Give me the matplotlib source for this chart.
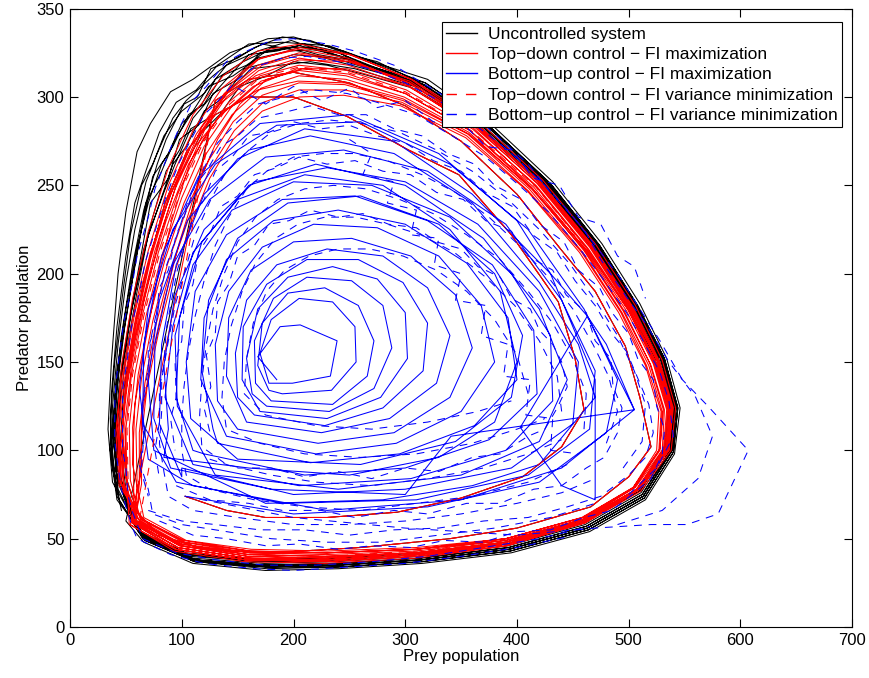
import matplotlib
matplotlib.use('Agg')
import matplotlib.pyplot as plt

plt.rcParams['font.family'] = ['Liberation Sans', 'DejaVu Sans']

# trajectories in the (prey, predator) plane, one loop per row
start_path = [(103, 74), (140, 66), (175, 62), (230, 62), (293, 65), (350, 73), (405, 85), (440, 102),
              (460, 123), (452, 152), (437, 184), (395, 222), (348, 256), (303, 270), (248, 289),
              (200, 300), (160, 300), (130, 290), (105, 270), (85, 240), (70, 205), (58, 170),
              (50, 140), (47, 110), (50, 85), (60, 65), (80, 52), (120, 44), (180, 42), (260, 45),
              (340, 50), (400, 56), (466, 68), (500, 85), (520, 102), (510, 130), (497, 159),
              (470, 190), (439, 214), (400, 245), (350, 275), (300, 295), (250, 308), (200, 314),
              (160, 310), (130, 298)]

uncontrolled = [
    [(50, 60), (66, 48), (110, 36), (175, 32), (240, 33), (315, 36), (395, 42), (465, 54), (515, 72),
     (541, 98), (546, 124), (534, 152), (510, 183), (476, 217), (432, 252), (378, 284), (320, 310),
     (280, 318), (245, 326), (200, 334), (177, 333), (143, 325), (110, 310), (90, 303), (72, 285),
     (60, 269), (50, 235), (43, 200), (37, 150), (34, 112), (38, 82)],
    [(67, 49), (112, 37), (176, 33), (240, 34), (315, 37), (394, 43), (464, 55), (514, 73), (540, 99),
     (544, 124), (532, 152), (508, 182), (474, 216), (430, 251), (376, 283), (318, 308), (265, 321),
     (232, 329), (190, 331), (160, 330), (132, 318), (113, 304), (95, 297), (80, 280), (70, 262),
     (58, 240), (50, 210), (42, 170), (37, 132), (36, 100), (42, 72)],
    [(68, 50), (113, 38), (177, 34), (240, 35), (314, 38), (393, 44), (463, 56), (513, 74), (538, 100),
     (542, 125), (530, 152), (506, 182), (472, 216), (428, 251), (374, 283), (316, 307), (272, 317),
     (240, 325), (205, 329), (175, 326), (155, 320), (130, 310), (118, 296), (100, 285), (88, 268),
     (74, 255), (64, 225), (54, 190), (45, 155), (40, 120), (41, 88)],
    [(66, 51), (111, 38), (176, 35), (240, 36), (314, 39), (393, 45), (462, 57), (512, 75), (537, 100),
     (540, 125), (528, 152), (504, 182), (470, 216), (426, 251), (372, 282), (314, 305), (262, 318),
     (225, 327), (195, 326), (168, 322), (146, 312), (124, 306), (108, 290), (94, 276), (82, 258),
     (68, 240), (58, 205), (49, 170), (42, 135), (39, 105), (43, 78)],
    [(64, 52), (109, 39), (174, 36), (238, 37), (313, 40), (392, 46), (461, 58), (511, 76), (536, 101),
     (539, 126), (526, 153), (502, 183), (468, 217), (424, 252), (370, 283), (312, 306), (268, 316),
     (236, 322), (200, 324), (180, 320), (156, 316), (138, 300), (120, 292), (104, 272), (92, 262),
     (78, 236), (66, 214), (56, 182), (47, 148), (42, 118), (42, 90)],
    [(63, 53), (107, 40), (172, 37), (237, 38), (312, 41), (391, 47), (460, 59), (510, 77), (535, 102),
     (538, 127), (525, 154), (500, 184), (466, 218), (422, 253), (368, 284), (310, 307), (258, 320),
     (222, 324), (200, 328), (170, 325), (150, 310), (128, 302), (115, 284), (98, 276), (88, 254),
     (72, 240), (62, 205), (52, 170), (44, 138), (40, 108), (44, 80)],
    [(62, 54), (106, 41), (170, 38), (236, 39), (311, 42), (390, 48), (459, 60), (509, 78), (533, 102),
     (537, 127), (524, 154), (499, 184), (465, 218), (420, 253), (366, 284), (308, 306), (255, 316),
     (215, 320), (188, 318), (162, 316), (140, 302), (124, 288), (108, 282), (94, 262), (84, 246),
     (70, 222), (60, 190), (51, 158), (45, 128), (43, 98), (48, 74)],
    [(60, 55), (104, 42), (168, 38), (235, 39), (310, 42), (390, 48), (459, 60), (508, 78), (532, 102),
     (536, 126), (523, 153), (498, 183), (464, 217), (419, 252), (365, 283), (307, 305), (262, 313),
     (230, 318), (200, 320), (176, 312), (152, 306), (134, 290), (118, 280), (102, 260), (92, 248),
     (78, 224), (66, 196), (56, 164), (48, 134), (45, 104), (50, 78)],
    [(61, 54), (105, 41), (170, 37), (236, 38), (311, 41), (391, 47), (460, 59), (510, 77), (535, 101),
     (539, 126), (526, 153), (501, 183), (467, 217), (423, 252), (369, 284), (311, 308), (270, 316),
     (238, 326), (210, 330), (185, 326), (160, 324), (140, 310), (126, 300), (110, 288), (98, 270),
     (86, 258), (74, 232), (64, 206), (54, 176), (46, 142), (42, 110), (45, 82)],
    [(65, 50), (110, 38), (174, 35), (239, 35), (314, 38), (393, 44), (463, 56), (513, 74), (539, 100),
     (543, 125), (531, 152), (507, 182), (473, 216), (429, 251), (375, 283), (317, 307), (275, 320),
     (250, 324), (215, 332), (190, 334), (165, 328), (150, 322), (126, 316), (114, 300), (102, 296),
     (86, 276), (78, 262), (66, 236), (56, 205), (46, 165), (40, 130), (38, 100), (42, 74)],
    [(64, 51), (109, 38), (173, 35), (238, 36), (313, 39), (392, 45), (462, 57), (512, 75), (537, 100),
     (541, 125), (529, 152), (505, 182), (471, 216), (427, 251), (373, 282), (315, 306), (250, 322),
     (210, 328), (180, 328), (158, 318), (136, 312), (120, 296), (106, 290), (92, 272), (82, 262),
     (70, 240), (60, 215), (50, 180), (42, 145), (38, 112), (42, 84)],
    [(66, 50), (111, 37), (175, 34), (239, 35), (314, 38), (393, 44), (463, 56), (513, 74), (539, 100),
     (542, 125), (530, 152), (506, 182), (472, 216), (428, 251), (374, 283), (316, 307), (240, 320),
     (205, 326), (172, 330), (148, 322), (128, 312), (104, 298), (92, 288), (78, 268), (68, 252),
     (58, 225), (50, 195), (43, 160), (38, 125), (37, 98), (44, 72)],
    [(67, 49), (112, 37), (176, 34), (240, 34), (315, 37), (394, 43), (464, 55), (514, 73), (540, 99),
     (544, 124), (532, 152), (508, 182), (474, 216), (430, 251), (376, 283), (318, 308), (235, 324),
     (198, 332), (168, 326), (140, 318), (120, 302), (100, 292), (84, 278), (74, 262), (64, 250),
     (54, 222), (47, 188), (40, 150), (36, 118), (38, 90), (46, 66)],
]

topdown_max = [
    [(54, 58), (93, 43), (156, 37), (228, 36), (310, 39), (391, 46), (461, 59), (511, 77), (538, 100),
     (542, 124), (530, 151), (506, 182), (470, 217), (423, 253), (366, 286), (306, 310), (250, 324),
     (205, 328), (167, 321), (136, 305), (110, 281), (88, 250), (70, 213), (56, 175), (46, 140),
     (41, 110), (44, 80)],
    [(64, 61), (102, 49), (161, 43), (230, 42), (310, 44), (390, 50), (459, 62), (504, 79), (527, 100),
     (529, 122), (516, 148), (493, 178), (458, 212), (410, 247), (355, 278), (297, 297), (246, 304),
     (205, 304), (173, 297), (147, 281), (125, 259), (106, 231), (89, 200), (76, 169), (67, 138),
     (62, 110), (62, 83)],
    [(55, 59), (95, 44), (157, 38), (229, 37), (310, 40), (391, 46), (461, 59), (510, 78), (536, 100),
     (540, 124), (528, 150), (504, 181), (468, 216), (421, 252), (364, 284), (304, 308), (249, 321),
     (205, 325), (168, 318), (138, 302), (113, 279), (91, 249), (73, 213), (59, 176), (49, 141),
     (44, 111), (46, 81)],
    [(61, 61), (100, 47), (160, 42), (229, 41), (310, 43), (390, 49), (459, 61), (506, 79), (530, 100),
     (532, 123), (520, 148), (496, 179), (461, 213), (413, 248), (357, 280), (299, 300), (247, 310),
     (205, 312), (171, 305), (145, 290), (122, 268), (102, 240), (85, 208), (71, 175), (61, 143),
     (56, 113), (57, 84)],
    [(57, 59), (96, 45), (158, 39), (229, 38), (310, 41), (391, 47), (460, 60), (509, 78), (534, 100),
     (538, 123), (526, 150), (502, 180), (466, 215), (419, 251), (362, 283), (303, 306), (249, 318),
     (205, 322), (169, 315), (140, 300), (116, 278), (94, 248), (76, 213), (62, 177), (52, 142),
     (47, 112), (48, 82)],
    [(62, 60), (100, 46), (160, 41), (229, 40), (310, 42), (390, 48), (460, 61), (507, 78), (532, 100),
     (535, 123), (523, 149), (499, 180), (463, 214), (416, 250), (360, 283), (302, 307), (249, 322),
     (205, 327), (170, 322), (145, 308), (125, 288), (107, 262), (91, 230), (78, 196), (67, 160),
     (58, 126), (56, 92)],
    [(66, 62), (104, 49), (162, 44), (230, 43), (310, 45), (390, 50), (458, 62), (504, 79), (525, 100),
     (527, 122), (515, 148), (491, 178), (456, 212), (409, 247), (354, 277), (296, 295), (245, 301),
     (205, 300), (172, 292), (146, 276), (125, 254), (107, 226), (91, 196), (79, 166), (69, 136),
     (64, 108), (64, 81)],
    [(58, 60), (98, 46), (159, 40), (229, 39), (310, 42), (391, 48), (460, 60), (508, 78), (533, 100),
     (536, 123), (524, 149), (500, 180), (464, 214), (417, 250), (360, 282), (301, 304), (248, 315),
     (205, 318), (170, 312), (142, 297), (118, 275), (97, 246), (79, 212), (65, 177), (55, 143),
     (50, 112), (51, 82)],
    [(53, 58), (94, 44), (157, 38), (229, 37), (310, 40), (391, 47), (460, 60), (509, 78), (535, 100),
     (538, 123), (525, 149), (500, 179), (463, 213), (414, 248), (357, 279), (298, 299), (246, 308),
     (204, 309), (168, 304), (138, 292), (112, 272), (90, 245), (72, 212), (58, 178), (48, 143),
     (43, 112), (45, 82)],
    [(60, 60), (99, 47), (160, 41), (229, 40), (310, 42), (390, 48), (460, 61), (507, 78), (531, 100),
     (534, 123), (522, 149), (498, 179), (462, 213), (415, 249), (358, 281), (300, 302), (247, 312),
     (205, 315), (171, 309), (144, 294), (120, 272), (100, 243), (82, 210), (68, 176), (58, 143),
     (53, 113), (54, 83)],
    [(63, 61), (101, 48), (161, 42), (230, 42), (310, 44), (390, 49), (459, 61), (505, 79), (528, 100),
     (530, 122), (518, 148), (494, 178), (459, 212), (411, 248), (356, 279), (298, 298), (246, 307),
     (205, 308), (172, 301), (146, 286), (124, 264), (104, 236), (87, 205), (74, 173), (64, 141),
     (59, 112), (60, 83)],
    [(58, 59), (97, 45), (158, 39), (229, 38), (310, 41), (391, 47), (461, 60), (509, 78), (535, 100),
     (538, 124), (526, 150), (502, 181), (466, 216), (419, 252), (363, 285), (304, 309), (250, 320),
     (205, 321), (166, 312), (134, 296), (108, 272), (88, 242), (72, 208), (60, 174), (51, 140),
     (46, 110), (48, 82)],
    [(56, 59), (95, 44), (157, 38), (229, 38), (310, 41), (391, 47), (461, 59), (510, 78), (536, 100),
     (539, 124), (527, 150), (503, 181), (467, 216), (420, 252), (364, 285), (305, 310), (251, 324),
     (206, 330), (168, 326), (137, 312), (110, 290), (88, 260), (70, 224), (56, 186), (46, 148),
     (42, 114), (45, 82)],
    [(65, 61), (103, 48), (161, 43), (230, 42), (310, 44), (390, 50), (459, 62), (505, 79), (528, 101),
     (531, 123), (519, 149), (495, 179), (460, 213), (413, 249), (358, 281), (300, 302), (249, 313),
     (208, 316), (176, 310), (152, 296), (132, 276), (114, 250), (98, 218), (84, 184), (72, 150),
     (64, 118), (63, 88)],
    [(59, 60), (98, 46), (159, 40), (229, 39), (310, 42), (391, 47), (460, 60), (508, 78), (534, 100),
     (537, 123), (525, 149), (501, 180), (465, 215), (418, 251), (362, 284), (303, 308), (250, 320),
     (207, 324), (172, 318), (143, 304), (118, 283), (97, 254), (80, 220), (66, 184), (55, 148),
     (49, 115), (50, 84)],
    [(57, 60), (96, 45), (158, 39), (229, 38), (310, 41), (391, 47), (461, 60), (509, 78), (535, 100),
     (539, 124), (527, 150), (503, 181), (467, 216), (420, 252), (363, 284), (303, 306), (248, 316),
     (203, 316), (164, 306), (132, 288), (106, 262), (86, 230), (70, 196), (58, 162), (49, 130),
     (45, 102), (48, 78)],
]

bottomup_max = [
    [(103, 74), (200, 64), (320, 68), (420, 82), (480, 110), (490, 140), (460, 180), (410, 225),
     (340, 262), (260, 286), (185, 284), (130, 262), (92, 225), (70, 180), (62, 135), (70, 95)],
    [(110, 80), (230, 66), (350, 72), (440, 90), (505, 123), (463, 176), (430, 200), (400, 230),
     (330, 268), (250, 290), (170, 285), (115, 255), (82, 210), (66, 160), (65, 115)],
    [(95, 82), (190, 70), (310, 72), (410, 86), (465, 112), (470, 145), (440, 185), (390, 228),
     (320, 258), (245, 270), (175, 266), (125, 242), (92, 205), (76, 160), (75, 118)],
    [(90, 90), (180, 78), (300, 75), (341, 108), (505, 123), (480, 160), (463, 176), (403, 113),
     (440, 80), (470, 72), (470, 140), (430, 200), (360, 245), (290, 275), (210, 282), (150, 265),
     (105, 230), (80, 185), (70, 140), (75, 100)],
    [(175, 70), (280, 72), (360, 80), (420, 92), (470, 130), (455, 160), (420, 195), (360, 240),
     (290, 268), (215, 278), (160, 270), (120, 245), (95, 205), (82, 160), (80, 115), (100, 85)],
    [(100, 90), (200, 75), (300, 78), (395, 90), (450, 115), (455, 150), (420, 190), (365, 228),
     (300, 252), (230, 260), (165, 252), (120, 225), (94, 188), (84, 148), (88, 112)],
    [(84, 96), (160, 90), (250, 86), (330, 96), (380, 116), (400, 150), (385, 190), (340, 225),
     (280, 250), (210, 256), (150, 242), (110, 212), (92, 170), (85, 130)],
    [(110, 92), (205, 80), (305, 84), (390, 100), (432, 128), (430, 165), (395, 200), (340, 232),
     (270, 250), (200, 252), (145, 236), (110, 205), (94, 165), (96, 125)],
    [(130, 86), (240, 78), (350, 86), (420, 105), (445, 140), (420, 180), (370, 220), (300, 250),
     (220, 262), (160, 250), (118, 218), (98, 175), (95, 130), (110, 100)],
    [(120, 98), (210, 86), (300, 90), (375, 106), (418, 132), (415, 168), (378, 205), (320, 230),
     (255, 244), (190, 242), (140, 222), (112, 190), (104, 150), (108, 118)],
    [(150, 95), (260, 92), (345, 105), (395, 130), (405, 165), (380, 200), (330, 228), (260, 244),
     (195, 240), (150, 220), (124, 185), (118, 145), (128, 112)],
    [(132, 104), (215, 93), (295, 98), (362, 114), (400, 140), (392, 175), (355, 206), (300, 228),
     (240, 236), (182, 230), (140, 208), (120, 175), (117, 140)],
    [(140, 108), (220, 98), (292, 104), (350, 122), (380, 150), (368, 182), (330, 210), (275, 226),
     (218, 228), (172, 215), (142, 190), (130, 160), (132, 128)],
    [(150, 112), (222, 104), (290, 110), (340, 130), (360, 158), (345, 188), (305, 210), (252, 220),
     (200, 218), (162, 202), (142, 175), (140, 142)],
    [(158, 116), (225, 110), (286, 118), (328, 138), (340, 165), (320, 192), (280, 210), (230, 214),
     (185, 205), (158, 185), (148, 155), (150, 130)],
    [(165, 120), (228, 114), (280, 124), (316, 145), (320, 172), (298, 195), (258, 208), (212, 208),
     (176, 194), (155, 170), (154, 140)],
    [(170, 122), (230, 118), (278, 130), (302, 152), (300, 178), (275, 197), (235, 204), (195, 198),
     (168, 180), (158, 152), (163, 132)],
    [(176, 125), (232, 122), (272, 135), (288, 158), (280, 182), (252, 196), (212, 198), (182, 186),
     (165, 162), (166, 138)],
    [(180, 128), (235, 126), (266, 142), (272, 162), (258, 182), (228, 192), (195, 189), (172, 172),
     (168, 148), (178, 134)],
    [(190, 132), (234, 134), (256, 150), (255, 170), (235, 184), (205, 186), (180, 174), (170, 155),
     (178, 138), (199, 138), (233, 142), (239, 162), (206, 171), (188, 170), (168, 153), (185, 140)],
]

topdown_var = [
    [(62, 60), (100, 46), (160, 41), (229, 40), (310, 43), (390, 48), (460, 60), (508, 78), (533, 100),
     (536, 123), (524, 149), (500, 179), (464, 213), (417, 249), (359, 281), (300, 303), (248, 314),
     (205, 317), (170, 311), (143, 296), (119, 274), (98, 245), (80, 211), (66, 176), (56, 143),
     (51, 112), (52, 82)],
]

bottomup_var = [
    [(103, 74), (200, 62), (300, 56), (400, 52), (470, 56), (520, 58), (552, 58), (580, 64), (607, 100),
     (571, 125), (548, 140), (535, 151), (515, 172), (500, 185), (475, 208), (460, 225), (430, 246),
     (410, 262), (375, 282), (350, 295), (315, 308), (290, 318), (255, 326), (230, 330), (200, 333),
     (180, 332), (158, 326), (140, 320), (122, 306), (110, 298), (96, 280), (88, 268), (76, 248),
     (70, 232), (60, 210), (56, 195), (48, 172), (45, 158), (41, 138), (40, 125), (40, 105), (42, 95),
     (46, 78), (50, 68), (56, 56), (60, 50), (90, 41), (120, 36), (165, 33), (200, 32), (250, 34),
     (300, 36), (350, 40), (400, 45), (445, 51)],
    [(490, 58), (530, 66), (562, 84), (575, 108), (560, 130), (548, 140), (528, 162), (515, 175),
     (492, 198), (475, 212), (448, 234), (425, 250), (392, 270), (365, 283), (330, 298), (300, 308),
     (268, 316), (240, 320), (212, 323), (190, 322), (165, 317), (150, 310), (130, 296), (120, 290),
     (105, 272), (97, 262), (85, 242), (78, 228), (67, 206), (63, 192), (55, 170), (52, 155),
     (47, 134), (47, 120), (47, 100), (50, 90), (52, 74), (56, 65), (65, 50), (95, 42), (130, 38),
     (175, 35), (220, 35), (270, 37), (320, 40), (370, 45), (420, 50), (465, 57)],
    [(80, 60), (110, 52), (140, 50), (175, 46), (205, 47), (240, 44), (270, 46), (305, 45), (335, 49),
     (370, 48), (400, 54), (430, 55), (460, 62), (485, 66), (505, 76), (520, 84), (530, 98), (532, 112),
     (525, 125), (522, 140), (508, 152), (500, 166), (485, 178), (474, 192), (455, 202), (442, 218),
     (420, 228), (404, 242), (380, 250), (362, 262), (338, 268), (315, 278), (290, 282), (265, 290),
     (240, 290), (215, 295), (190, 291), (168, 288), (150, 278), (135, 272), (122, 258), (112, 250),
     (102, 232), (95, 222), (88, 202), (80, 192), (76, 170), (70, 158), (70, 138), (64, 125), (66, 104),
     (62, 92), (70, 74)],
    [(500, 75), (525, 90), (540, 108), (536, 128), (528, 144), (512, 163), (498, 178), (476, 198),
     (455, 215), (428, 235), (402, 250), (372, 266), (342, 278), (310, 290), (280, 296), (248, 302),
     (218, 304), (192, 300), (168, 296), (150, 286), (132, 274), (120, 260), (106, 242), (98, 226),
     (86, 204), (80, 186), (72, 162), (70, 146), (64, 124), (66, 108), (64, 90), (70, 78), (74, 64),
     (100, 58), (140, 54), (180, 50), (230, 48), (280, 48), (330, 52), (380, 56), (430, 62), (470, 70)],
    [(70, 66), (100, 60), (130, 58), (170, 55), (210, 55), (250, 52), (290, 55), (330, 56), (370, 60),
     (410, 62), (445, 68), (475, 74), (500, 86), (515, 96), (522, 110), (518, 126), (510, 138),
     (498, 156), (485, 166), (470, 182), (452, 196), (436, 212), (414, 222), (396, 238), (372, 246),
     (350, 258), (325, 264), (300, 274), (275, 278), (250, 284), (225, 282), (200, 286), (178, 280),
     (160, 278), (145, 266), (130, 258), (120, 242), (110, 232), (102, 214), (96, 202), (90, 182),
     (86, 168), (84, 148), (80, 136), (80, 116), (76, 100), (80, 84)],
    [(495, 90), (512, 105), (515, 126), (505, 145), (490, 165), (470, 185), (448, 205), (420, 225),
     (392, 242), (360, 258), (328, 270), (295, 280), (262, 285), (232, 287), (205, 285), (180, 280),
     (160, 270), (140, 258), (126, 242), (112, 222), (104, 204), (94, 182), (88, 162), (82, 140),
     (82, 122), (80, 104), (84, 88), (88, 74), (110, 66), (150, 62), (200, 58), (250, 58), (300, 60),
     (350, 64), (400, 70), (440, 76), (470, 84)],
    [(95, 80), (125, 72), (160, 70), (190, 66), (225, 66), (255, 62), (290, 66), (320, 64), (355, 70),
     (385, 70), (415, 78), (440, 80), (462, 90), (478, 96), (490, 110), (494, 124), (486, 136),
     (484, 152), (470, 162), (462, 178), (444, 188), (432, 202), (410, 210), (395, 224), (372, 230),
     (352, 242), (328, 246), (305, 256), (280, 258), (255, 264), (230, 262), (205, 266), (185, 260),
     (165, 256), (150, 244), (135, 238), (125, 222), (115, 212), (110, 194), (102, 182), (100, 162),
     (94, 150), (95, 130), (90, 118), (94, 100)],
    [(480, 104), (490, 122), (482, 142), (468, 160), (450, 180), (428, 198), (402, 216), (375, 232),
     (345, 246), (315, 256), (284, 264), (254, 268), (226, 268), (200, 266), (176, 258), (158, 248),
     (142, 232), (130, 216), (120, 196), (112, 176), (106, 156), (102, 136), (100, 118), (100, 100),
     (104, 86), (125, 78), (165, 72), (210, 68), (260, 66), (310, 70), (360, 74), (410, 82), (445, 92)],
    [(460, 112), (462, 132), (450, 152), (432, 172), (410, 190), (385, 208), (355, 222), (325, 234),
     (295, 242), (265, 248), (236, 250), (210, 248), (186, 242), (166, 232), (150, 218), (138, 200),
     (128, 180), (122, 160), (118, 140), (116, 120), (118, 102), (140, 92), (180, 86), (220, 82),
     (270, 80), (320, 84), (370, 90), (410, 98), (440, 106)],
    [(125, 95), (150, 90), (180, 90), (210, 85), (240, 88), (270, 84), (300, 90), (330, 88), (360, 96),
     (385, 98), (410, 108), (425, 112), (436, 124), (445, 136), (440, 150), (432, 160), (420, 168),
     (412, 180), (395, 186), (385, 198), (365, 204), (350, 214), (328, 218), (310, 226), (285, 228),
     (262, 234), (240, 232), (215, 236), (196, 230), (178, 228), (165, 216), (150, 210), (142, 194),
     (132, 184), (130, 166), (122, 154), (126, 136), (120, 124), (126, 108)],
    [(440, 122), (436, 142), (420, 162), (398, 182), (372, 198), (344, 212), (314, 222), (284, 228),
     (256, 232), (228, 232), (204, 228), (184, 220), (166, 206), (154, 190), (144, 170), (138, 150),
     (136, 130), (140, 112), (170, 104), (210, 98), (260, 96), (310, 98), (360, 104), (400, 112),
     (425, 118)],
    [(410, 132), (400, 154), (380, 174), (355, 190), (328, 202), (298, 210), (268, 214), (240, 214),
     (214, 210), (192, 202), (176, 190), (164, 172), (158, 152), (156, 132), (175, 120), (220, 114),
     (270, 112), (320, 116), (365, 122), (395, 128)],
    [(150, 305), (175, 296), (200, 306), (225, 298), (250, 305), (275, 294), (300, 298), (325, 286),
     (350, 286), (372, 272), (395, 270), (415, 254), (438, 250), (455, 232), (475, 228), (490, 210),
     (505, 204), (515, 186)],
    [(250, 276), (270, 268), (262, 256), (290, 252), (284, 240), (310, 236), (305, 222), (330, 220),
     (326, 205), (350, 200), (345, 185), (372, 182), (368, 165), (392, 160), (388, 142), (412, 140),
     (408, 120), (432, 118), (430, 100), (455, 98)],
]

labels = ['Uncontrolled system',
          'Top\u2212down control \u2212 FI maximization',
          'Bottom\u2212up control \u2212 FI maximization',
          'Top\u2212down control \u2212 FI variance minimization',
          'Bottom\u2212up control \u2212 FI variance minimization']


def trace(loops, head=()):
    xs = [p[0] for p in head]
    ys = [p[1] for p in head]
    for loop in loops:
        xs += [p[0] for p in loop]
        ys += [p[1] for p in loop]
    return xs, ys


fig = plt.figure(figsize=(8.7, 6.78), dpi=100)
ax = fig.add_axes([0.0805, 0.0752, 0.899, 0.912])

lw = 0.75
dash = (7.5, 6.5)
x, y = trace(uncontrolled, start_path)
ax.plot(x, y, color='k', lw=lw, label=labels[0])
x, y = trace(topdown_max, start_path)
ax.plot(x, y, color='#ff0000', lw=lw, label=labels[1])
x, y = trace(bottomup_max)
ax.plot(x, y, color='#0000ff', lw=lw, label=labels[2])
x, y = trace(topdown_var, start_path)
ax.plot(x, y, color='#ff0000', lw=lw, dashes=dash, label=labels[3])
for loop in bottomup_var:
    ax.plot([p[0] for p in loop], [p[1] for p in loop], color='#0000ff', lw=lw, dashes=dash)
ax.plot([], [], color='#0000ff', lw=lw, dashes=dash, label=labels[4])

ax.set_xlim(0, 700)
ax.set_ylim(0, 350)
ax.set_xticks(range(0, 701, 100))
ax.set_yticks(range(0, 351, 50))
ax.tick_params(direction='in', top=True, right=True, length=6, labelsize=12, pad=4)
for s in ax.spines.values():
    s.set_linewidth(0.8)
ax.set_xlabel('Prey population', fontsize=12, labelpad=1)
ax.set_ylabel('Predator population', fontsize=12, labelpad=3)

leg = ax.legend(loc='upper right', bbox_to_anchor=(1.0, 0.995), fontsize=12.5, frameon=True,
                fancybox=False, edgecolor='k', framealpha=1, handlelength=1.8, labelspacing=0.3,
                borderpad=0.25, borderaxespad=0.6, handletextpad=0.6)
leg.get_frame().set_linewidth(0.8)
for h in leg.get_lines():
    h.set_linewidth(1.0)

fig.savefig('out.png', dpi=100)
